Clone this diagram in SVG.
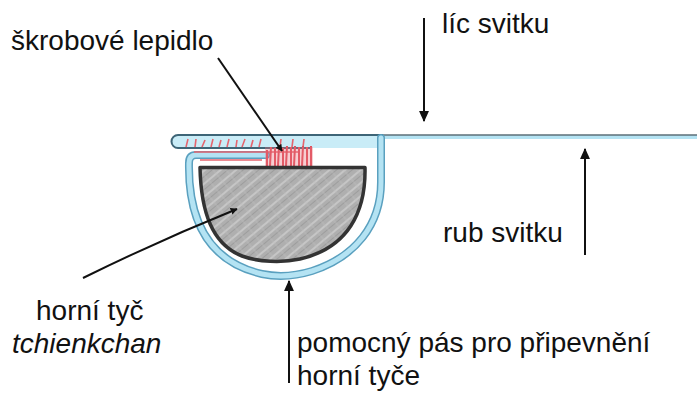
<svg xmlns="http://www.w3.org/2000/svg" width="697" height="401" viewBox="0 0 697 401">
  <style>
    .lbl { font-family: "Liberation Sans", Arial, sans-serif; font-size: 28px; fill: #111; }
    .it { font-style: italic; }
    .lead { stroke: #111; stroke-width: 2; fill: none; }
    .bandOut { stroke: #5aa0bf; stroke-width: 8; fill: none; stroke-linecap: round; stroke-linejoin: round; }
    .bandIn { stroke: #b4e3f3; stroke-width: 5; fill: none; stroke-linecap: round; stroke-linejoin: round; }
    .glue { stroke: #e4646e; stroke-width: 1.6; }
  </style>
  <defs>
    <marker id="arrow" viewBox="0 0 10 10" refX="9" refY="5" markerWidth="7" markerHeight="7" markerUnits="userSpaceOnUse" orient="auto">
      <path d="M0,0 L10,5 L0,10 Z" fill="#111"/>
    </marker>
    <marker id="arrowL" viewBox="0 0 10 10" refX="9" refY="5" markerWidth="11" markerHeight="11" markerUnits="userSpaceOnUse" orient="auto">
      <path d="M0,0.5 L10,5 L0,9.5 Z" fill="#111"/>
    </marker>
    <pattern id="pencil" width="10" height="10" patternUnits="userSpaceOnUse" patternTransform="rotate(-40)">
      <rect width="10" height="10" fill="#afafaf"/>
      <line x1="0" y1="2" x2="10" y2="2" stroke="#d6d6d6" stroke-width="1.2"/>
      <line x1="0" y1="6.5" x2="10" y2="6.5" stroke="#9d9d9d" stroke-width="1"/>
      <line x1="4" y1="0" x2="4" y2="10" stroke="#bdbdbd" stroke-width="0.7"/>
    </pattern>
  </defs>

  <!-- scroll face: horizontal sheet with folded-back rounded strip -->
  <g id="scroll">
    <path d="M383,137 H697" stroke="#b4e3f3" stroke-width="4" fill="none"/>
    <path d="M383,135 H697" stroke="#5c6f78" stroke-width="1.4" fill="none"/>
    <path d="M383,135 H178 A6.5,6.5 0 0 0 178,148 H383 Z" fill="#c9ecf7" stroke="none"/>
    <path d="M383,135 H178 A6.5,6.5 0 0 0 178,148 H312" fill="none" stroke="#3e6577" stroke-width="2"/>
  </g>

  <!-- auxiliary mounting band wrapped round the rod -->
  <g id="band">
    <path class="bandOut" d="M266,155 H196 Q189,155 189,163 C188,222 210,262 262,274 Q286,279 312,271 C355,257 381,225 381,182 V138"/>
    <path class="bandIn" d="M266,155 H196 Q189,155 189,163 C188,222 210,262 262,274 Q286,279 312,271 C355,257 381,225 381,182 V138"/>
  </g>

  <!-- starch paste between strip and rod -->
  <g id="paste">
    <g class="glue">
      <line x1="188" y1="139" x2="186" y2="147"/>
      <line x1="196" y1="139" x2="195" y2="147"/>
      <line x1="205" y1="140" x2="202" y2="147"/>
      <line x1="213" y1="139" x2="211" y2="147"/>
      <line x1="221" y1="140" x2="219" y2="147"/>
      <line x1="229" y1="139" x2="227" y2="147"/>
      <line x1="237" y1="140" x2="236" y2="147"/>
      <line x1="245" y1="139" x2="242" y2="147"/>
      <line x1="253" y1="140" x2="251" y2="147"/>
      <line x1="261" y1="139" x2="259" y2="147"/>
      <line x1="281" y1="139" x2="280" y2="147"/>
      <line x1="293" y1="139" x2="292" y2="147"/>
      <line x1="304" y1="139" x2="303" y2="147"/>
      <line x1="194" y1="152" x2="300" y2="152"/>
      <line x1="200" y1="160" x2="262" y2="160"/>
    </g>
    <g stroke="#e0505c" stroke-width="2">
      <line x1="267" y1="150" x2="267" y2="166"/>
      <line x1="271" y1="147" x2="270" y2="166"/>
      <line x1="275" y1="148" x2="275" y2="166"/>
      <line x1="279" y1="146" x2="278" y2="166"/>
      <line x1="283" y1="148" x2="283" y2="166"/>
      <line x1="287" y1="146" x2="286" y2="166"/>
      <line x1="291" y1="147" x2="291" y2="166"/>
      <line x1="295" y1="146" x2="294" y2="166"/>
      <line x1="299" y1="147" x2="299" y2="166"/>
      <line x1="303" y1="146" x2="302" y2="166"/>
      <line x1="307" y1="147" x2="307" y2="166"/>
      <line x1="311" y1="146" x2="311" y2="166"/>
    </g>
    <rect x="265" y="147" width="48" height="19" fill="#e9707a" opacity="0.35"/>
  </g>

  <!-- upper rod (half-round) -->
  <g id="rod">
    <path d="M200,167.5 H365 C366,212 348,248 300,259 C282,263 258,262 242,256 C212,244 201,212 200,167.5 Z" fill="url(#pencil)" stroke="#333" stroke-width="3.5" stroke-linejoin="round"/>
  </g>

  <!-- leader lines -->
  <g id="connectors">
    <path class="lead" d="M218,58 L282,151" marker-end="url(#arrow)"/>
    <path class="lead" d="M83,278 Q160,240 237,209" marker-end="url(#arrow)"/>
    <path class="lead" d="M424,18 V121" marker-end="url(#arrowL)"/>
    <path class="lead" d="M585,255 V149" marker-end="url(#arrowL)"/>
    <path class="lead" d="M289,383 V281" marker-end="url(#arrowL)"/>
  </g>

  <!-- labels -->
  <g id="labels">
    <text class="lbl" x="11" y="50">škrobové lepidlo</text>
    <text class="lbl" x="442" y="33">líc svitku</text>
    <text class="lbl" x="443" y="242">rub svitku</text>
    <text class="lbl" x="36" y="320">horní tyč</text>
    <text class="lbl it" x="12" y="353">tchienkchan</text>
    <text class="lbl" x="297" y="352">pomocný pás pro připevnění</text>
    <text class="lbl" x="297" y="385">horní tyče</text>
  </g>
</svg>
